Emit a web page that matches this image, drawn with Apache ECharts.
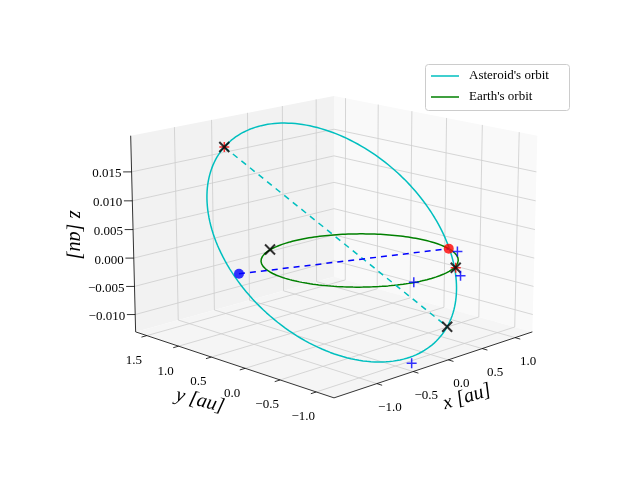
<!DOCTYPE html>
<html><head><meta charset="utf-8">
<script src="https://cdn.jsdelivr.net/npm/echarts@6/dist/echarts.min.js"></script>
<style>html,body{margin:0;padding:0;background:#fff}#c{width:640px;height:480px}</style>
</head><body><div id="c"></div>
<script>
// ---- data (3D, au) ----
const xTicks = [-1.0, -0.5, 0.0, 0.5, 1.0];
const yTicks = [-1.0, -0.5, 0.0, 0.5, 1.0, 1.5];
const zTicks = [-0.010, -0.005, 0.000, 0.005, 0.010, 0.015];
const earthRadius = 1.0;
const asteroidCenter = [-0.1625, 0.1625, 0.00375];
const asteroidAxisU = [0.7975, -0.7975, -0.01575];
const asteroidAxisV = [1.58, 0.82, 0.006];
const apsides = [[-0.96, 0.96, 0.0195], [0.635, -0.635, -0.012]];
const nodeLine = [[-1.21, 0.48, 0.0], [0.93, -0.37, 0.0]];
const blackX = [[-0.96, 0.96, 0.0195], [-0.38, 0.93, 0.0], [0.45, -0.91, 0.0], [0.635, -0.635, -0.012]];
const redPlus = [[-0.96, 0.96, 0.0195], [0.45, -0.91, 0.0]];
const bluePlus = [[0.91, -0.51, 0.0], [0.27, -1.14, 0.0], [-0.47, -1.19, -0.012], [-0.22, -0.97, 0.0]];
const redDot = [[0.93, -0.37, 0.0]];
const blueDot = [[-1.21, 0.48, 0.0]];
const seriesNames = ["Asteroid's orbit", "Earth's orbit"];
const xRange = [-1.57, 1.27], yRange = [-1.24, 1.68], zRange = [-0.0131, 0.0212];

// ---- projection ----
const elev = 15 * Math.PI / 180, azim = -135 * Math.PI / 180, D = 30, K = 71, CX = 334, CY = 235, C = 1.43;
function proj(p) {
  const X = (p[0] - (xRange[0] + xRange[1]) / 2) * 4 / (xRange[1] - xRange[0]);
  const Y = (p[1] - (yRange[0] + yRange[1]) / 2) * 4 / (yRange[1] - yRange[0]);
  const Z = (p[2] - (zRange[0] + zRange[1]) / 2) * 2 * C / (zRange[1] - zRange[0]);
  const r = [-Math.sin(azim), Math.cos(azim), 0];
  const u = [-Math.sin(elev) * Math.cos(azim), -Math.sin(elev) * Math.sin(azim), Math.cos(elev)];
  const d = [Math.cos(elev) * Math.cos(azim), Math.cos(elev) * Math.sin(azim), Math.sin(elev)];
  const sx = X * r[0] + Y * r[1] + Z * r[2];
  const sy = X * u[0] + Y * u[1] + Z * u[2];
  const dep = X * d[0] + Y * d[1] + Z * d[2];
  const f = D / (D - dep);
  return [CX + K * sx * f, CY - K * sy * f];
}
const P = pts => pts.map(proj);

const earthOrbit = [], asteroidOrbit = [];
for (let i = 0; i <= 200; i++) {
  const t = i / 200 * 2 * Math.PI;
  earthOrbit.push([earthRadius * Math.cos(t), earthRadius * Math.sin(t), 0]);
  asteroidOrbit.push([0, 1, 2].map(k => asteroidCenter[k] + asteroidAxisU[k] * Math.cos(t) + asteroidAxisV[k] * Math.sin(t)));
}

const [x0, x1] = xRange, [y0, y1] = yRange, [z0, z1] = zRange;
const panes = [
  { pts: [[x0, y1, z0], [x1, y1, z0], [x1, y1, z1], [x0, y1, z1]], c: '#f2f2f2' },
  { pts: [[x1, y0, z0], [x1, y1, z0], [x1, y1, z1], [x1, y0, z1]], c: '#f9f9f9' },
  { pts: [[x0, y0, z0], [x1, y0, z0], [x1, y1, z0], [x0, y1, z0]], c: '#f5f5f5' }
];
const gridSegs = [];
xTicks.forEach(v => { gridSegs.push([[v, y0, z0], [v, y1, z0]], [[v, y1, z0], [v, y1, z1]]); });
yTicks.forEach(v => { gridSegs.push([[x0, v, z0], [x1, v, z0]], [[x1, v, z0], [x1, v, z1]]); });
zTicks.forEach(v => { gridSegs.push([[x0, y1, v], [x1, y1, v]], [[x1, y1, v], [x1, y0, v]]); });
const axisSegs = [[[x0, y0, z0], [x1, y0, z0]], [[x0, y0, z0], [x0, y1, z0]], [[x0, y1, z0], [x0, y1, z1]]];
const tickSegs = [], tickLabels = [];
const FONT = 'Liberation Serif';
const fmt = (v, n) => v.toFixed(n).replace('-', '\u2212');
xTicks.forEach(v => { const a = proj([v, y0, z0]), b = proj([v, y0 - 0.07, z0]);
  tickSegs.push([a, b]); tickLabels.push({ p: [a[0] + 13, a[1] + 24], t: fmt(v, 1), al: 'center' }); });
yTicks.forEach(v => { const a = proj([x0, v, z0]), b = proj([x0 - 0.07, v, z0]);
  tickSegs.push([a, b]); tickLabels.push({ p: [a[0] - 13, a[1] + 25], t: fmt(v, 1), al: 'center' }); });
zTicks.forEach(v => { const a = proj([x0, y1, v]), b = proj([x0 - 0.06, y1 + 0.06, v]);
  tickSegs.push([a, b]); tickLabels.push({ p: [a[0] - 10, a[1] + 2], t: fmt(v, 3), al: 'right' }); });

const segSeries = (segs, color, width, z) => ({
  type: 'custom', silent: true, z: z, data: segs.map((s, i) => [i]),
  renderItem: (params, api) => { const s = segs[params.dataIndex];
    const a = api.coord(s[0]), b = api.coord(s[1]);
    return { type: 'line', shape: { x1: a[0], y1: a[1], x2: b[0], y2: b[1] }, style: { stroke: color, lineWidth: width } }; }
});
const xPath = 'path://M0,0L10,10M10,0L0,10', plusPath = 'path://M5,0L5,10M0,5L10,5';
const mark = (pts, sym, size, color, w, z) => ({
  type: 'scatter', z: z, data: P(pts), symbol: sym, symbolSize: size,
  itemStyle: sym === 'circle' ? { color: color } : { color: 'none', borderColor: color, borderWidth: w }
});

const option = {
  animation: false,
  grid: { left: 0, right: 0, top: 0, bottom: 0 },
  xAxis: { type: 'value', min: 0, max: 640, show: false },
  yAxis: { type: 'value', min: 0, max: 480, inverse: true, show: false },
  series: [
    { type: 'custom', silent: true, z: 1, data: panes.map((p, i) => [i]),
      renderItem: (params, api) => { const p = panes[params.dataIndex];
        return { type: 'polygon', shape: { points: p.pts.map(q => api.coord(proj(q))) }, style: { fill: p.c } }; } },
    segSeries(gridSegs.map(s => s.map(proj)), '#cdcdcd', 0.8, 2),
    segSeries(axisSegs.map(s => s.map(proj)), '#000', 0.8, 3),
    segSeries(tickSegs, '#000', 0.8, 3),
    { type: 'custom', silent: true, z: 3, data: tickLabels.map((t, i) => [i]),
      renderItem: (params, api) => { const t = tickLabels[params.dataIndex]; const c = api.coord(t.p);
        return { type: 'text', x: c[0], y: c[1], style: { text: t.t, fill: '#000', font: '13px "' + FONT + '"', align: t.al, verticalAlign: 'middle' } }; } },
    { name: seriesNames[1], type: 'line', z: 4, data: P(earthOrbit), symbol: 'none', lineStyle: { color: '#008000', width: 1.5 } },
    { name: seriesNames[0], type: 'line', z: 4, data: P(asteroidOrbit), symbol: 'none', lineStyle: { color: '#00bfbf', width: 1.5 } },
    { type: 'line', z: 4, data: P(apsides), symbol: 'none', lineStyle: { color: '#00bfbf', width: 1.5, type: [6, 5] } },
    { type: 'line', z: 5, data: P(nodeLine), symbol: 'none', lineStyle: { color: '#0000ff', width: 1.5, type: [6, 5] } },
    mark(redPlus, plusPath, 10, '#ff0000', 1.5, 6),
    mark(blackX, xPath, 10, '#000000', 2, 7),
    mark(bluePlus, plusPath, 10, '#0000ff', 1.5, 7),
    mark(redDot, 'circle', 10, '#ff0000', 0, 8),
    mark(blueDot, 'circle', 10, '#0000ff', 0, 8)
  ],
  graphic: [
    { type: 'rect', shape: { x: 425.5, y: 64.5, width: 144, height: 46, r: 3 }, style: { fill: 'rgba(255,255,255,0.8)', stroke: '#cccccc', lineWidth: 1 }, z: 100 },
    { type: 'line', shape: { x1: 431, y1: 76, x2: 459, y2: 76 }, style: { stroke: '#00bfbf', lineWidth: 1.5 }, z: 101 },
    { type: 'line', shape: { x1: 431, y1: 97, x2: 459, y2: 97 }, style: { stroke: '#008000', lineWidth: 1.5 }, z: 101 },
    { type: 'text', x: 469, y: 76, z: 101, style: { text: seriesNames[0], font: '13px "' + FONT + '"', fill: '#000', verticalAlign: 'middle' } },
    { type: 'text', x: 469, y: 97, z: 101, style: { text: seriesNames[1], font: '13px "' + FONT + '"', fill: '#000', verticalAlign: 'middle' } },
    { type: 'text', x: 467, y: 397, rotation: 0.3, style: { text: 'x [au]', font: 'italic 20px "' + FONT + '"', fill: '#000', align: 'center', verticalAlign: 'middle' } },
    { type: 'text', x: 200, y: 401, rotation: -0.25, style: { text: 'y [au]', font: 'italic 20px "' + FONT + '"', fill: '#000', align: 'center', verticalAlign: 'middle' } },
    { type: 'text', x: 75, y: 235, rotation: -Math.PI / 2, style: { text: 'z [au]', font: 'italic 20px "' + FONT + '"', fill: '#000', align: 'center', verticalAlign: 'middle' } }
  ]
};
echarts.init(document.getElementById('c')).setOption(option);
</script></body></html>
